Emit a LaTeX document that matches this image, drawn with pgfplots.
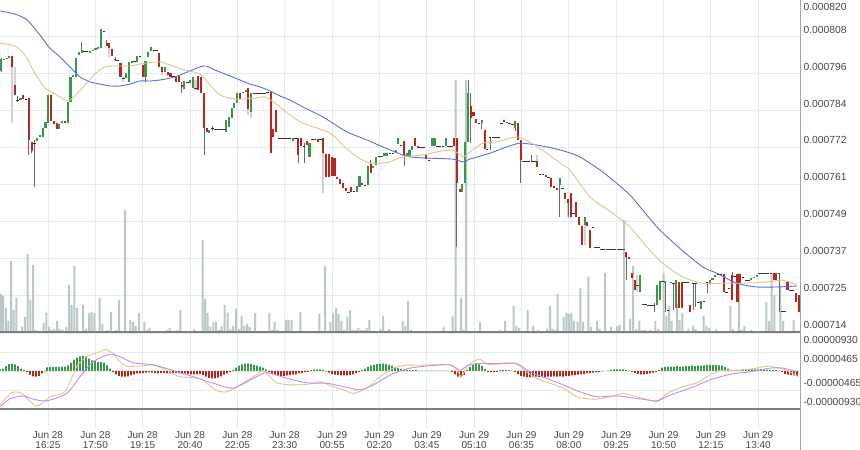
\documentclass[border=0pt]{standalone}
\usepackage{fontspec}
\setmainfont{Liberation Sans}
\usepackage{pgfplots}
\usepackage{pgfplotstable}
\pgfplotsset{compat=1.18}

\definecolor{upgreen}{RGB}{58,150,72}
\definecolor{downred}{RGB}{180,40,30}
\definecolor{volgray}{RGB}{186,200,200}
\definecolor{gridc}{RGB}{228,236,236}
\definecolor{maBlue}{RGB}{95,110,220}
\definecolor{maTan}{RGB}{220,200,140}
\definecolor{sigPurple}{RGB}{200,140,232}
\definecolor{wickc}{RGB}{105,105,105}
\definecolor{shadec}{RGB}{208,210,210}
\definecolor{edgec}{RGB}{150,172,172}
\definecolor{labelc}{RGB}{70,70,70}

% candles: x = candle index (5 min), prices in 1e-6
\pgfplotstableread{
x o h l c
0 797.3 801.4 797.0 801.1
1 800.8 801.1 800.8 801.1
2 801.1 801.4 801.1 801.4
3 801.4 802.1 801.4 802.1
7 788.0 788.6 788.0 788.6
13 774.9 775.8 774.9 775.8
14 776.2 776.8 776.2 776.8
15 776.2 779.0 776.2 779.0
16 779.0 781.0 779.0 781.0
17 780.6 789.6 780.6 789.6
21 778.7 780.3 778.7 780.3
22 780.6 781.3 780.6 781.3
24 780.6 787.4 780.6 787.4
25 787.4 795.4 787.4 795.4
26 795.4 796.0 795.4 796.0
27 795.4 801.4 795.4 801.4
28 802.4 803.4 802.4 803.4
29 803.0 806.6 803.0 804.0
32 803.0 803.7 803.0 803.7
33 803.7 804.0 803.7 804.0
34 804.0 804.6 804.0 804.6
35 804.3 805.0 804.3 805.0
36 804.6 810.7 804.6 810.7
45 795.0 796.6 795.0 796.6
46 793.8 800.2 793.8 800.2
47 799.8 800.5 799.8 800.5
49 800.2 802.1 800.2 802.1
52 795.4 800.5 793.8 800.5
53 801.8 803.4 801.8 803.4
54 803.7 805.0 803.7 805.0
59 797.0 798.6 797.0 798.6
66 791.5 794.1 791.5 794.1
68 793.4 794.4 793.4 794.4
69 791.8 795.4 791.8 795.4
75 777.4 778.4 777.4 778.4
81 777.8 781.6 777.8 781.6
82 779.4 782.6 779.4 782.6
83 782.2 785.4 782.2 785.4
84 785.4 787.0 785.4 787.0
85 787.0 790.2 787.0 790.2
87 790.2 790.6 790.2 790.6
88 790.6 791.2 790.6 791.2
90 784.2 790.2 784.2 790.2
105 774.9 775.8 774.9 775.8
111 769.8 774.2 769.8 774.2
128 758.6 760.5 758.6 760.5
129 760.2 763.7 760.2 763.7
132 760.8 766.9 760.8 766.9
134 766.2 766.9 766.2 766.9
135 767.2 769.8 767.2 769.8
138 770.1 771.0 770.1 771.0
139 770.1 771.0 770.1 771.0
142 771.0 772.0 771.0 772.0
143 773.9 775.8 773.9 775.8
146 769.8 771.0 769.8 771.0
147 769.8 772.0 769.8 772.0
148 772.0 773.3 772.0 773.3
155 773.3 775.8 773.3 775.8
156 773.3 775.8 773.3 775.8
160 773.3 775.8 773.3 775.8
166 758.6 761.1 758.6 761.1
167 761.4 774.6 761.4 774.6
168 774.6 794.4 774.6 790.2
173 780.6 781.6 778.7 781.6
185 779.0 781.3 778.1 781.3
201 760.8 763.0 750.6 763.0
210 748.0 750.6 748.0 750.6
230 726.6 732.0 726.6 732.0
236 722.4 728.8 722.4 728.8
237 724.0 730.1 724.0 730.1
239 729.4 730.1 720.2 730.1
241 729.4 729.8 729.4 729.8
243 721.4 730.4 721.4 730.4
252 721.1 723.7 721.1 723.7
255 729.4 730.4 729.4 730.4
256 730.4 731.0 730.4 731.0
257 731.4 732.0 731.4 732.0
270 730.4 731.0 730.4 731.0
271 731.0 731.4 731.0 731.4
272 731.4 732.0 731.4 732.0
}\candUp

\pgfplotstableread{
x o h l c
4 802.1 802.1 798.6 798.6
5 792.8 792.8 789.6 789.6
8 789.6 789.6 788.3 788.3
10 788.6 788.6 770.4 775.2
11 774.6 774.6 771.0 771.7
18 789.6 789.6 781.3 781.3
19 781.3 781.3 780.3 780.3
20 780.6 780.6 778.7 778.7
23 781.3 781.3 780.6 780.6
38 806.2 807.2 805.3 805.3
39 806.2 806.2 804.6 804.6
40 804.3 804.3 802.1 802.1
43 799.8 799.8 795.4 795.4
51 799.2 799.2 795.4 795.4
57 803.0 803.0 798.6 798.6
58 798.6 798.6 797.0 797.0
60 797.0 797.0 796.0 796.0
61 796.6 796.6 795.4 795.4
63 795.4 795.4 793.8 793.8
64 795.7 795.7 793.8 793.8
65 792.8 793.8 790.2 792.2
71 795.7 795.7 791.2 791.2
72 795.4 795.4 790.2 790.2
73 790.2 790.2 770.4 779.0
74 779.0 779.0 777.8 777.8
86 790.2 790.2 788.3 788.3
89 791.8 791.8 785.1 785.1
97 790.6 790.6 771.0 771.0
98 778.7 778.7 776.2 776.2
99 784.8 784.8 777.8 777.8
107 775.8 775.8 767.8 770.4
108 775.8 775.8 773.3 773.3
110 774.9 774.9 773.6 773.6
114 775.5 775.5 774.6 774.6
116 775.8 775.8 771.0 771.0
117 770.7 770.7 763.4 763.4
118 770.7 770.7 763.4 763.4
119 769.8 769.8 763.7 763.7
120 769.4 769.4 763.7 763.7
121 763.4 763.4 762.7 762.7
122 762.7 762.7 761.1 761.1
123 761.4 761.4 759.8 759.8
124 759.8 759.8 758.9 758.9
126 760.2 760.2 758.6 758.6
130 761.4 761.4 760.8 760.8
133 767.8 768.8 764.6 764.6
145 774.9 774.9 766.9 770.4
149 775.8 775.8 773.3 773.3
150 773.3 773.3 772.6 772.6
153 770.4 770.4 769.1 769.1
163 775.8 775.8 773.3 773.3
164 775.8 775.8 741.0 761.4
165 759.5 759.5 758.6 758.6
169 786.1 790.2 774.2 782.2
170 784.2 784.2 782.9 782.9
171 781.9 781.9 780.6 780.6
174 778.4 778.4 772.3 772.3
175 772.3 772.3 772.0 772.0
181 781.6 781.6 781.0 781.0
182 781.0 781.0 780.6 780.6
186 780.6 780.6 775.2 775.2
187 775.2 775.2 761.4 768.8
193 768.5 768.5 766.6 766.6
196 764.0 764.0 763.4 763.4
198 763.0 763.0 760.2 760.2
199 760.5 760.5 759.8 759.8
200 759.8 759.8 759.2 759.2
203 758.2 758.2 756.3 756.3
204 756.3 756.3 750.6 755.0
205 758.2 758.2 750.6 750.6
207 755.4 755.4 750.6 750.6
208 750.6 750.6 748.0 748.0
209 747.7 747.7 741.6 741.6
211 749.0 749.0 747.7 747.7
212 746.4 746.4 740.6 740.6
224 740.3 740.3 740.0 740.0
225 739.4 739.4 730.4 737.8
226 737.8 737.8 737.1 737.1
227 732.6 732.6 731.0 731.0
228 730.4 730.4 727.2 727.2
244 729.8 729.8 721.4 721.4
245 729.8 729.8 721.4 721.4
248 722.4 722.4 720.2 720.2
260 732.3 732.3 726.6 726.6
263 732.0 733.0 724.0 724.0
265 732.3 732.3 723.4 723.4
266 732.3 732.3 729.4 729.4
278 732.6 732.6 730.4 730.4
279 732.6 732.6 730.4 730.4
283 729.8 729.8 727.2 727.2
286 726.2 726.2 723.4 723.4
287 725.6 725.6 720.2 720.2
}\candDown

\pgfplotstableread{
x p h l
6 788.0 789.3 787.4
9 788.3 788.3 788.3
12 774.2 775.2 760.2
30 803.4 803.4 803.4
31 803.4 803.4 803.4
37 809.8 809.8 809.8
41 801.1 801.8 800.5
42 800.8 800.8 800.8
44 795.0 795.0 795.0
48 800.5 800.5 800.5
50 802.1 802.1 802.1
55 804.0 804.0 804.0
56 804.0 804.0 804.0
62 795.4 795.4 795.4
67 793.8 793.8 793.8
70 791.8 791.8 791.8
76 779.0 779.7 778.1
77 778.7 778.7 778.7
78 778.7 778.7 778.7
79 778.7 778.7 778.7
80 778.7 778.7 778.7
91 790.2 790.2 790.2
92 790.2 790.2 790.2
93 790.2 790.2 790.2
94 790.2 790.2 790.2
95 790.2 790.2 790.2
96 790.6 790.6 790.6
100 775.8 775.8 775.8
101 775.8 775.8 775.8
102 775.8 775.8 775.8
103 775.8 775.8 775.8
104 775.8 775.8 775.8
106 775.8 775.8 775.8
109 773.3 774.2 767.8
112 775.5 775.5 775.5
113 775.5 775.5 775.5
115 775.5 775.5 775.5
125 758.6 758.6 758.6
127 758.9 758.9 758.9
131 760.8 760.8 760.8
136 770.1 770.1 770.1
137 770.1 770.1 770.1
140 771.0 771.0 771.0
141 771.0 771.0 771.0
144 773.6 773.6 773.6
151 773.0 773.0 773.0
152 773.0 773.0 773.0
154 768.8 768.8 768.8
157 773.3 773.3 773.3
158 773.3 773.3 773.3
159 773.3 773.3 773.3
161 773.3 773.3 773.3
162 773.3 773.3 773.3
172 780.6 780.6 780.6
176 776.2 776.2 772.0
177 776.2 776.2 776.2
178 776.2 776.2 776.2
179 776.2 776.2 776.2
180 780.6 780.6 780.6
183 780.6 780.6 780.6
184 780.3 780.3 780.3
188 768.5 768.5 768.5
189 768.5 768.5 768.5
190 768.5 768.5 768.5
191 768.5 770.4 768.5
192 768.5 768.5 768.5
194 764.3 764.3 764.3
195 764.3 764.3 764.3
197 763.4 763.4 763.4
202 759.8 759.8 759.8
206 751.8 751.8 751.8
213 747.4 747.4 747.4
214 741.0 741.0 741.0
215 741.0 741.0 741.0
216 740.3 740.3 740.3
217 740.3 740.3 740.3
218 740.3 740.3 740.3
219 740.3 740.3 740.3
220 740.3 740.3 740.3
221 740.3 740.3 740.3
222 740.3 740.3 740.3
223 740.3 740.3 740.3
229 728.8 728.8 728.8
231 722.7 722.7 722.7
232 722.7 722.7 722.7
233 722.4 722.4 722.4
234 722.4 722.4 722.4
235 722.4 723.0 720.2
238 730.1 730.1 730.1
240 720.8 720.8 720.8
242 729.4 729.4 720.8
246 729.8 729.8 729.8
247 729.8 729.8 729.8
249 729.4 729.4 720.8
250 729.4 729.4 721.8
251 723.4 723.4 723.4
253 723.7 723.7 723.7
254 729.8 729.8 726.2
258 732.3 732.3 732.3
259 732.3 732.3 732.3
261 726.6 726.6 726.6
262 727.8 727.8 727.8
264 731.7 731.7 731.7
267 731.4 731.4 731.4
268 730.4 730.4 730.4
269 730.4 730.4 730.4
273 732.6 732.6 732.6
274 732.6 732.6 732.6
275 732.6 732.6 732.6
276 732.6 732.6 732.6
277 732.6 732.6 732.6
280 732.6 732.6 720.2
281 720.5 720.5 720.5
282 720.5 720.5 720.5
284 727.2 727.2 727.2
285 727.2 727.2 727.2
}\candDoji

\pgfplotstableread{
x lo hi
4 780.6 798.6
5 792.8 798.6
25 788.0 795.4
39 801.8 804.6
44 793.8 795.4
58 796.0 798.6
70 791.2 794.4
89 783.2 785.1
90 782.2 784.2
116 758.2 771.0
135 767.2 769.8
193 768.5 770.4
204 750.6 755.0
210 741.6 748.0
229 726.6 732.0
}\candShade

% volume, x in pixels of the time axis, height in panel units
\pgfplotstableread{
x v
0.8 38
3 36
5.8 24
8.3 11
11 71
13.7 22
16.3 34
19.2 1
22 5
24.8 15
27.7 78
30.3 32
33 67
35.7 2
40.7 1
43.7 9
46.3 19
49.2 5
51.7 2
54.3 3
57 11
59.7 3
62.5 2
66.3 5
69 47
71.7 27
74.3 66
77 24
83 27
85.8 3
89 19
91.7 20
94.3 19
99.7 34
102.3 8
107.7 2
111 20
116.3 2
119 32
125 122
130.3 12
133 10
135.7 6
139 19
144.3 10
147 2
149.7 4
166.7 2
169.7 4
177.7 2
180.3 22
194.3 3
202.7 92
205 33
207.7 19
210.3 5
213.3 10
216 10
219 2
221.7 6
224.7 27
227.7 19
230.3 3
233 6
236 23
239 3
241.7 16
244.3 6
247 8
249.7 5
255 19
269.3 19
272 2
274.7 10
277.3 2
286 12
288.7 12
291.5 12
300.3 20
319.3 18
325 66
330.3 10
333 19
336 24
338.7 18
341.3 11
344 2
347.3 15
350 22
352.5 2
355.8 2
358.3 4
361 2
364 2
366.7 4
369.3 12
380.3 3
383 16
389 3
402.7 11
405.3 6
408 31
411 2
443.7 5
452.7 16
455.5 252
461 34
463.7 2
466 252
480 10
500.3 2
505 11
513.7 26
516.3 6
519 4
527.7 22
533 6
538.3 2
547 3
550 26
552.7 3
555.3 2
557.7 38
563.7 15
566.3 19
568.8 18
571.3 19
573.8 11
577.7 10
580.3 44
583 10
588.3 55
591 5
597 11
599.7 3
605 59
611 5
617 6
619.7 7
624.2 112
630 13
633 66
636.3 3
639.3 11
642 2
645 2
650.3 2
655.3 11
658.3 3
663.7 59
666.3 16
669 26
671.7 11
677 28
679.7 12
682.3 19
688.3 3
693 6
695.7 3
703.7 16
706.3 6
709 4
716.3 3
730.3 26
733 3
739 59
741.7 2
744.3 6
751 2
766.3 30
769 11
771.7 59
774.3 37
780.3 46
783 11
793.7 12
}\volume

% MACD histogram (1e-7), x in pixels
\pgfplotstableread{
x v
0 4
3 6
6 12
9 17
12 18
15 16
18 12
21 6
24 2
47 9
50 10
53 10
56 10
59 10
62 10
65 11
68 14
71 20
74 28
77 33
80 36
83 37
86 36
89 30
92 26
95 24
98 22
101 22
104 20
107 14
110 6
233 2
236 8
239 13
242 16
245 18
248 18
251 17
254 15
257 13
260 11
263 8
266 4
311 2
314 4
317 4
320 4
323 3
362 2
365 6
368 10
371 13
374 15
377 17
380 18
383 18
386 17
389 15
392 13
395 10
398 7
401 5
404 3
407 3
410 2
413 2
416 2
419 1
422 1
425 1
428 1
431 1
434 1
437 1
440 1
443 1
446 1
467 3
470 10
473 15
476 17
479 16
482 12
485 5
500 2
503 3
506 3
509 2
512 1
608 1
611 2
614 4
617 4
620 4
623 4
626 3
629 1
659 3
662 8
665 10
668 11
671 11
674 11
677 12
680 11
683 11
686 12
689 12
692 13
695 12
698 13
701 13
704 14
707 15
710 15
713 15
716 15
719 14
722 13
725 10
728 6
731 3
734 2
737 3
740 3
743 4
746 4
749 4
752 4
755 4
758 4
761 4
764 4
767 3
770 3
773 3
776 2
779 1
}\histUp

\pgfplotstableread{
x v
27 -3
30 -9
33 -13
36 -14
39 -12
42 -6
45 -1
113 -3
116 -8
119 -12
122 -14
125 -14
128 -13
131 -11
134 -8
137 -6
140 -6
143 -5
146 -4
149 -3
152 -4
155 -5
158 -6
161 -5
164 -5
167 -6
170 -6
173 -5
176 -5
179 -6
182 -6
185 -6
188 -7
191 -8
194 -8
197 -8
200 -7
203 -10
206 -14
209 -17
212 -18
215 -18
218 -16
221 -13
224 -9
227 -6
230 -3
269 -3
272 -7
275 -10
278 -12
281 -12
284 -12
287 -11
290 -10
293 -9
296 -8
299 -6
302 -5
305 -3
308 -2
326 -1
329 -4
332 -7
335 -9
338 -10
341 -11
344 -11
347 -11
350 -10
353 -8
356 -5
359 -2
452 -2
455 -8
458 -14
461 -15
464 -10
488 -2
491 -3
494 -3
497 -2
515 -3
518 -8
521 -12
524 -14
527 -15
530 -15
533 -15
536 -14
539 -15
542 -14
545 -15
548 -14
551 -14
554 -13
557 -14
560 -13
563 -14
566 -12
569 -12
572 -11
575 -10
578 -9
581 -8
584 -7
587 -6
590 -5
593 -4
596 -3
599 -2
602 -1
632 -2
635 -5
638 -7
641 -8
644 -8
647 -7
650 -6
653 -4
656 -2
782 -2
785 -7
788 -9
791 -10
794 -11
797 -12
}\histDown

\begin{document}
\begin{tikzpicture}
\useasboundingbox (0pt,0pt) rectangle (860pt,450pt);

% volume panel with the price grid
\begin{axis}[
  at={(0pt,118pt)}, anchor=south west,
  scale only axis, width=800pt, height=332pt,
  xmin=0, xmax=800, ymin=0, ymax=332,
  axis line style={draw=none},
  xtick={48,95.35,142.7,190.05,237.4,284.75,332.1,379.45,426.8,474.15,521.5,568.85,616.2,663.55,710.9,758.25},
  ytick={36.9,73.8,110.7,147.6,184.4,221.3,258.2,295.1},
  xticklabels={}, yticklabels={},
  major tick length=0pt,
  grid=major, grid style={gridc, line width=0.9pt},
]
\addplot[ybar, bar width=2pt, bar shift=0pt, fill=volgray, draw=none] table[x=x, y=v] \volume;
\end{axis}

% grid lines run on below the MACD panel down to the time labels
\foreach \gx in {48,95.35,142.7,190.05,237.4,284.75,332.1,379.45,426.8,474.15,521.5,568.85,616.2,663.55,710.9,758.25}
  \draw[gridc, line width=0.9pt] (\gx pt,40pt) -- (\gx pt,22pt);

% MACD panel
\begin{axis}[
  at={(0pt,41pt)}, anchor=south west,
  scale only axis, width=800pt, height=76pt,
  xmin=0, xmax=800, ymin=-93, ymax=93,
  axis line style={draw=none},
  xtick={48,95.35,142.7,190.05,237.4,284.75,332.1,379.45,426.8,474.15,521.5,568.85,616.2,663.55,710.9,758.25},
  xticklabels={{Jun 28\\16:25},{Jun 28\\17:50},{Jun 28\\19:15},{Jun 28\\20:40},{Jun 28\\22:05},{Jun 28\\23:30},{Jun 29\\00:55},{Jun 29\\02:20},{Jun 29\\03:45},{Jun 29\\05:10},{Jun 29\\06:35},{Jun 29\\08:00},{Jun 29\\09:25},{Jun 29\\10:50},{Jun 29\\12:15},{Jun 29\\13:40}},
  xtick pos=bottom, major tick length=0pt,
  xticklabel style={align=center, font=\fontsize{10}{10}\selectfont, text=labelc, inner sep=0pt, yshift=-22.5pt},
  ytick={0,46.5,93},
  yticklabels={,0.00000465,0.00000930},
  yticklabel pos=right,
  yticklabel style={anchor=north west, font=\fontsize{10.3}{11}\selectfont, text=labelc},
  extra y ticks={-46.5,-93},
  extra y tick labels={-0.00000465,-0.00000930},
  extra y tick style={grid=major, yticklabel style={anchor=south west}},
  grid=major, grid style={gridc, line width=0.9pt},
]
\addplot[ybar, bar width=1.8pt, bar shift=0pt, fill=upgreen, draw=none] table[x=x, y=v] \histUp;
\addplot[ybar, bar width=1.8pt, bar shift=0pt, fill=downred, draw=none] table[x=x, y=v] \histDown;
\addplot[maTan, line width=0.9pt, smooth, tension=0.4] coordinates {
(0,-83) (11.7,-53) (21.7,-55) (36.7,-86) (50,-63) (65,-51) (76.7,11) (86.7,35) (100,47) (105,53)
(113.3,43) (120,23) (126.7,12) (140,12) (153.3,15) (166.7,2) (180,-14) (200,-18) (206.7,-30)
(216.7,-48) (226.7,-51) (240,-34) (253.3,-14) (263.3,1) (270,-14) (276.7,-29) (290,-34)
(306.7,-33) (321.7,-26) (328.3,-34) (343.3,-46) (353.3,-55) (366.7,-42) (380,-14) (393.3,7)
(406.7,14) (420,14) (430,15) (450,15) (456.7,2) (461.7,-14) (466.7,11) (473.3,23) (480,29)
(486.7,17) (496.7,17) (510,20) (516.7,17) (526.7,-2) (536.7,-18) (550,-30) (563.3,-42)
(576.7,-63) (583.3,-67) (596.7,-69) (610,-63) (623.3,-55) (633.3,-61) (643.3,-67) (656.7,-75)
(663.3,-63) (670,-51) (683.3,-38) (696.7,-29) (706.7,-14) (720,1) (736.7,1) (756.7,7)
(766.7,12) (780,7) (790,-2) (798.3,-14)};
\addplot[sigPurple, line width=0.9pt, smooth, tension=0.4] coordinates {
(0,-88) (10,-68) (23.3,-61) (33.3,-69) (46.7,-73) (66.7,-55) (80,-14) (93.3,23) (110,41)
(120,35) (133.3,20) (153.3,15) (173.3,1) (193.3,-14) (213.3,-30) (233.3,-42) (253.3,-18)
(266.7,-4) (286.7,-18) (306.7,-29) (326.7,-30) (346.7,-40) (360,-46) (373.3,-34) (393.3,-6)
(410,7) (430,13) (450,15) (460,2) (466.7,12) (476.7,18) (496.7,18) (516.7,18) (530,-2)
(546.7,-18) (563.3,-34) (580,-51) (596.7,-63) (616.7,-61) (636.7,-67) (656.7,-73) (670,-59)
(690,-42) (710,-22) (730,-8) (750,-2) (770,7) (783.3,7) (796.7,-2)};
\end{axis}

\draw[line width=2pt, black!50] (0pt,118pt) -- (800pt,118pt);
\draw[line width=2pt, black!50] (0pt,40.5pt) -- (800pt,40.5pt);

% price panel: candles and averages
\begin{axis}[
  at={(0pt,118pt)}, anchor=south west,
  scale only axis, width=800pt, height=332pt,
  xmin=-0.36, xmax=287.5, ymin=713.8, ymax=820,
  axis line style={draw=none},
  xtick=\empty,
  ytick={808.2,796.4,784.6,772.8,761.0,749.2,737.4,725.6,713.8},
  yticklabels={0.000808,0.000796,0.000784,0.000772,0.000761,0.000749,0.000737,0.000725,0.000714},
  yticklabel pos=right, major tick length=0pt,
  yticklabel style={anchor=south west, font=\fontsize{10.3}{11}\selectfont, text=labelc},
  extra y ticks={820}, extra y tick labels={0.000820},
  extra y tick style={yticklabel style={anchor=north west}},
]
% light shadow bodies
\addplot[draw=none, mark=none, forget plot, error bars/.cd, y dir=plus, y explicit, error mark=none,
  error bar style={draw=shadec, line width=2.1pt}]
  table[x=x, y=lo, y error plus expr=\thisrow{hi}-\thisrow{lo}] \candShade;
% wicks
\addplot[draw=none, mark=none, forget plot, error bars/.cd, y dir=plus, y explicit, error mark=none,
  error bar style={draw=wickc, line width=0.7pt}]
  table[x=x, y=l, y error plus expr=\thisrow{h}-\thisrow{l}] \candUp;
\addplot[draw=none, mark=none, forget plot, error bars/.cd, y dir=plus, y explicit, error mark=none,
  error bar style={draw=wickc, line width=0.7pt}]
  table[x=x, y=l, y error plus expr=\thisrow{h}-\thisrow{l}] \candDown;
\addplot[draw=none, mark=none, forget plot, error bars/.cd, y dir=plus, y explicit, error mark=none,
  error bar style={draw=wickc, line width=0.7pt}]
  table[x=x, y=l, y error plus expr=\thisrow{h}-\thisrow{l}] \candDoji;
% bodies
\addplot[draw=none, mark=none, forget plot, error bars/.cd, y dir=plus, y explicit, error mark=none,
  error bar style={draw=upgreen, line width=2.1pt}]
  table[x=x, y=o, y error plus expr=\thisrow{c}-\thisrow{o}] \candUp;
\addplot[draw=none, mark=none, forget plot, error bars/.cd, y dir=plus, y explicit, error mark=none,
  error bar style={draw=downred, line width=2.1pt}]
  table[x=x, y=c, y error plus expr=\thisrow{o}-\thisrow{c}] \candDown;
\addplot[only marks, mark=-, mark size=1.3pt, mark options={draw=black!80, line width=0.8pt}]
  table[x=x, y=p] \candDoji;
% moving averages
\addplot[maBlue, line width=0.9pt, smooth, tension=0.4] coordinates {
(-0.4,816.5) (5.0,815.5) (9.4,813.6) (14.0,808.8) (17.6,804.6) (21.2,801.8) (24.8,798.6)
(28.4,795.4) (32.0,793.8) (35.6,793.1) (39.2,792.5) (42.8,792.5) (46.4,793.1) (50.0,794.1)
(53.6,794.1) (57.2,794.4) (60.8,795.0) (64.4,796.0) (68.0,797.3) (71.6,798.6) (73.7,798.9)
(77.0,797.6) (82.4,795.7) (86.0,794.4) (89.6,793.1) (93.2,792.2) (96.8,790.9) (100.4,789.3)
(104.0,788.0) (108.6,785.8) (115.8,782.6) (119.4,780.6) (124.5,777.8) (131.7,775.2)
(137.4,773.0) (144.6,770.4) (147.1,769.8) (154.3,769.4) (162.6,769.1) (166.2,768.2)
(168.7,769.1) (175.9,771.0) (182.0,773.0) (186.7,774.2) (192.8,773.6) (198.6,772.6)
(203.6,771.4) (208.3,769.8) (216.5,765.0) (226.3,757.6) (236.0,747.4) (244.2,740.6)
(252.5,734.6) (257.6,732.6) (264.7,729.4) (271.9,728.2) (279.1,728.2) (286.3,728.5)};
\addplot[maTan, line width=0.9pt, smooth, tension=0.4] coordinates {
(-0.4,806.2) (5.0,805.3) (8.6,802.4) (12.2,796.6) (15.8,791.8) (17.6,790.9) (21.2,789.0)
(24.1,787.7) (26.6,789.3) (30.2,792.8) (33.8,796.3) (37.4,798.6) (41.0,798.9) (46.4,798.9)
(51.8,799.8) (57.2,800.2) (60.8,799.2) (66.2,797.6) (71.6,796.3) (75.2,792.8) (78.8,789.6)
(84.2,788.3) (91.4,788.6) (95.0,789.0) (98.6,787.0) (104.0,783.2) (108.6,780.6)
(115.8,778.4) (119.4,776.8) (123.0,773.6) (128.1,769.8) (132.7,767.8) (136.3,767.8)
(139.9,768.2) (144.6,769.8) (151.8,770.4) (156.8,771.4) (162.6,772.0) (166.2,769.8)
(168.7,771.4) (173.4,774.2) (178.4,774.6) (185.6,776.2) (190.3,774.6) (196.4,771.0)
(202.2,767.2) (204.7,765.6) (212.0,757.0) (220.1,751.8) (226.3,747.4) (232.4,741.0)
(238.1,735.8) (245.3,731.4) (252.5,729.4) (259.7,729.4) (266.9,729.4) (275.5,729.8)
(281.3,730.4) (286.3,728.8)};
\end{axis}

\draw[edgec, line width=1pt] (800.5pt,0pt) -- (800.5pt,450pt);
\end{tikzpicture}
\end{document}
